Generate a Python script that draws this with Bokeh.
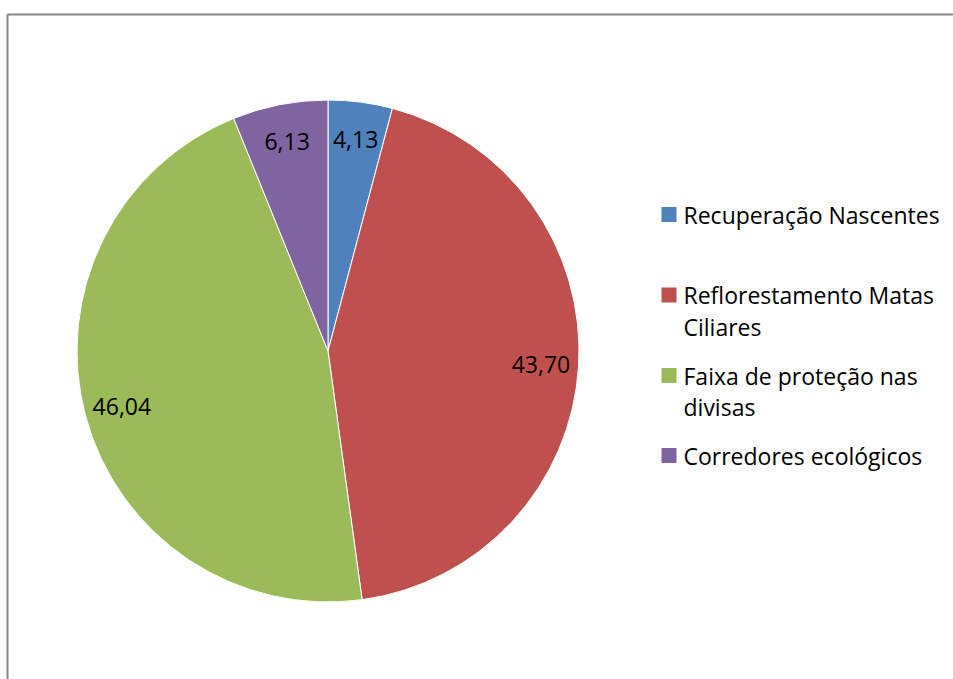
import math
from bokeh.plotting import figure
from bokeh.models import Range1d, ColumnDataSource
from bokeh.core.properties import value
from bokeh.embed import file_html
from bokeh.resources import INLINE

categories = ["Recuperação Nascentes", "Reflorestamento Matas Ciliares",
              "Faixa de proteção nas divisas", "Corredores ecológicos"]
legend_labels = ["Recuperação Nascentes", "Reflorestamento Matas\nCiliares",
                 "Faixa de proteção nas\ndivisas", "Corredores ecológicos"]
values = [4.13, 43.70, 46.04, 6.13]
colors = ["#4F81BD", "#C0504D", "#9BBB59", "#8064A2"]

W, H = 953, 679
FONT = "Open Sans"
FS = "23px"
p = figure(width=W, height=H, output_backend="svg", toolbar_location=None,
           x_range=Range1d(0, W), y_range=Range1d(0, H), min_border=0)
p.axis.visible = False
p.grid.visible = False
p.outline_line_color = None
p.background_fill_color = "white"

def py(page_y):
    return H - page_y

def px(page_x):
    return page_x

# chart border (left and top visible, extends past the window)
p.line([px(7), px(7)], [py(14), py(720)], line_color="#868686", line_width=2)
p.line([px(7), px(1000)], [py(14), py(14)], line_color="#868686", line_width=2)

cx, cy, R = px(327.5), py(350.5), 251
total = sum(values)
starts, ends, mids = [], [], []
cum = 0.0
for v in values:
    a0 = math.pi / 2 - 2 * math.pi * cum / total
    cum += v
    a1 = math.pi / 2 - 2 * math.pi * cum / total
    starts.append(a0)
    ends.append(a1)
    mids.append((a0 + a1) / 2)

src = ColumnDataSource(dict(start=starts, end=ends, color=colors,
                            x=[cx] * 4, y=[cy] * 4))
p.wedge(x="x", y="y", radius=R, start_angle="start", end_angle="end",
        direction="clock", fill_color="color", line_color="white",
        line_width=1, source=src)

lr = 0.85 * R
lab = ColumnDataSource(dict(
    x=[cx + lr * math.cos(m) for m in mids],
    y=[cy + lr * math.sin(m) for m in mids],
    t=[f"{v:.2f}".replace(".", ",") for v in values]))
p.text(x="x", y="y", text="t", source=lab, text_font=value(FONT),
       text_font_size=FS, text_align="center", text_baseline="middle",
       text_color="black")

# legend
leg_y = [214, 294.5, 375, 455]
sq = ColumnDataSource(dict(x=[px(668.5)] * 4, y=[py(v) for v in leg_y], c=colors))
p.rect(x="x", y="y", width=15, height=15, fill_color="c", line_color=None, source=sq)

lx, ly, lt = [], [], []
for yy, lbl in zip(leg_y, legend_labels):
    for i, line in enumerate(lbl.split("\n")):
        lx.append(px(683))
        ly.append(py(yy + i * 31.5))
        lt.append(line)
p.text(x="x", y="y", text="t", source=ColumnDataSource(dict(x=lx, y=ly, t=lt)),
       text_font=value(FONT), text_font_size=FS, text_align="left",
       text_baseline="middle", text_color="black")

open("out.html", "w").write(file_html(p, INLINE))
